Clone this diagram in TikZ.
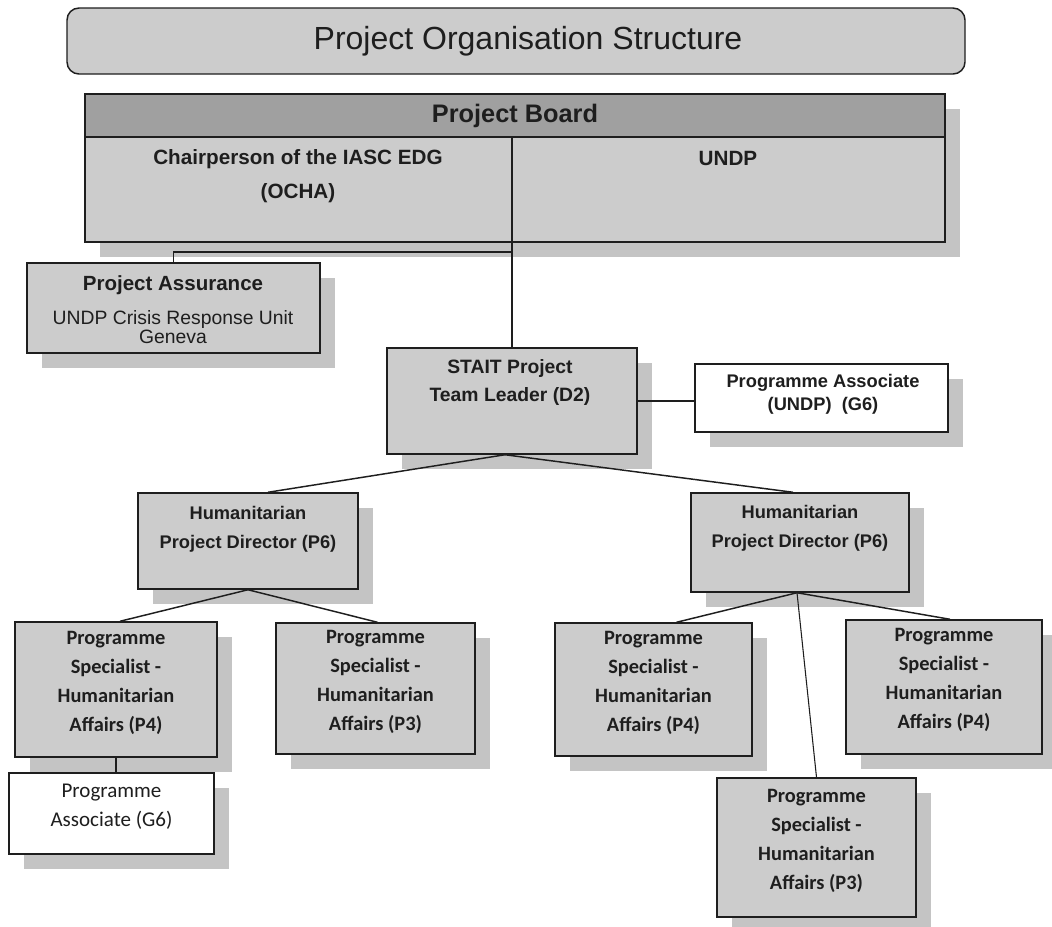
\documentclass[tikz,border=0pt]{standalone}
\usepackage{fontspec}
\setmainfont{Liberation Sans}
\newfontfamily\calib{Carlito}
\usetikzlibrary{fit,shadows,calc}
\definecolor{boxgray}{RGB}{204,204,204}
\definecolor{headgray}{RGB}{160,160,160}
\definecolor{shadowgray}{RGB}{196,196,196}
\definecolor{inkc}{RGB}{30,30,30}
\newcommand\fsz[2]{\fontsize{#1}{#2}\selectfont}
\begin{document}
\begin{tikzpicture}[x=0.75pt,y=-0.75pt,
  shadowed/.style={drop shadow={shadow xshift=11pt, shadow yshift=-11pt, fill=shadowgray, opacity=1}},
  box/.style={draw=inkc, line width=1.1pt, fill=boxgray, inner sep=0pt, shadowed},
  wbox/.style={box, fill=white},
  conn/.style={draw=inkc, line width=1.1pt},
  lbl/.style={text=inkc, align=center, inner sep=0pt},
  spec/.style={lbl, font=\calib\bfseries\fsz{15.3pt}{21.75pt}},
]
\useasboundingbox (0,0) rectangle (1052,926);
\fill[white] (0,0) rectangle (1052,926);

% title
\node[draw=inkc, line width=1.1pt, fill=boxgray, rounded corners=9pt, inner sep=0pt, fit={(67,8)(965,74)}] (title) {};
\node[lbl, font=\fsz{24pt}{24pt}] (title-t) at (528,41) {Project Organisation Structure};

% project board
\node[box, fit={(85,94)(945,242)}] (board) {};
\node[draw=inkc, line width=1.1pt, fill=headgray, inner sep=0pt, fit={(85,94)(945,137)}] (bhead) {};
\node[lbl, font=\bfseries\fsz{19pt}{19pt}] (bhead-t) at (515,116) {Project Board};
\node[lbl, font=\bfseries\fsz{15.5pt}{26pt}] (chair) at (298,176) {Chairperson of the IASC EDG\\(OCHA)};
\node[lbl, font=\bfseries\fsz{15.5pt}{15.5pt}] (undp) at (728,158) {UNDP};

% project assurance
\node[box, fit={(27,263)(320,353)}] (pa) {};
\node[lbl, font=\bfseries\fsz{15.4pt}{15.4pt}] (pa-t1) at (173,285) {Project Assurance};
\node[lbl, font=\fsz{14.5pt}{14.4pt}] (pa-t2) at (173,327) {UNDP Crisis Response Unit\\Geneva};

% STAIT team leader
\node[box, fit={(387,348)(637,454)}] (stait) {};
\node[lbl, font=\bfseries\fsz{14.5pt}{21pt}] (stait-t) at (510,382) {STAIT Project\\Team Leader (D2)};

% programme associate UNDP
\node[wbox, fit={(695,364)(948,432)}] (pau) {};
\node[lbl, font=\bfseries\fsz{13.7pt}{17.5pt}] (pau-t) at (823,394) {Programme Associate\\(UNDP)\ \ (G6)};

% humanitarian project directors
\node[box, fit={(138,493)(358,589)}] (hpdl) {};
\node[lbl, font=\bfseries\fsz{13.7pt}{21.5pt}] (hpdl-t) at (248,529) {Humanitarian\\Project Director (P6)};
\node[box, fit={(691,493)(909,592)}] (hpdr) {};
\node[lbl, font=\bfseries\fsz{13.7pt}{21.5pt}] (hpdr-t) at (800,528) {Humanitarian\\Project Director (P6)};

% programme specialists
\node[box, spec, fit={(15,622)(217,757)}] (ps1) {Programme\\Specialist -\\Humanitarian\\Affairs (P4)};
\node[box, spec, fit={(276,623)(475,754)}] (ps2) {Programme\\Specialist -\\Humanitarian\\Affairs (P3)};
\node[box, spec, fit={(555,623)(752,756)}] (ps3) {Programme\\Specialist -\\Humanitarian\\Affairs (P4)};
\node[box, spec, fit={(846,620)(1042,754)}] (ps4) {Programme\\Specialist -\\Humanitarian\\Affairs (P4)};
\node[box, spec, fit={(717,778)(916,917)}] (ps5) {Programme\\Specialist -\\Humanitarian\\Affairs (P3)};

% programme associate G6
\node[wbox, lbl, font=\calib\fsz{15.75pt}{21.75pt}, fit={(9,773)(214,854)}] (pag) {Programme\\Associate (G6)};

% connectors
\coordinate (bsplit) at (512,137);
\coordinate (elb) at (512,252);
\draw[conn] (bsplit) -- (stait.north);
\draw[conn, line width=0.8pt] (elb) -| (pa.north);
\draw[conn] (stait.east) -- (pau.west |- stait.east);
\draw[conn] ($(stait.south)+(-7,0)$) -- ($(hpdl.north)+(20,0)$);
\draw[conn] ($(stait.south)+(-7,0)$) -- ($(hpdr.north)+(-7,0)$);
\draw[conn] (hpdl.south) -- ($(ps1.north)+(4,0)$);
\draw[conn] (hpdl.south) -- ($(ps2.north)+(2,0)$);
\draw[conn, line width=0.8pt] (ps1.south) -- (ps1.south |- pag.north);
\draw[conn] ($(hpdr.south)+(-3,0)$) -- ($(ps3.north)+(23,0)$);
\draw[conn, line width=0.8pt] ($(hpdr.south)+(-3,0)$) -- (ps5.north);
\draw[conn] ($(hpdr.south)+(-3,0)$) -- ($(ps4.north)+(6,0)$);
\end{tikzpicture}
\end{document}
